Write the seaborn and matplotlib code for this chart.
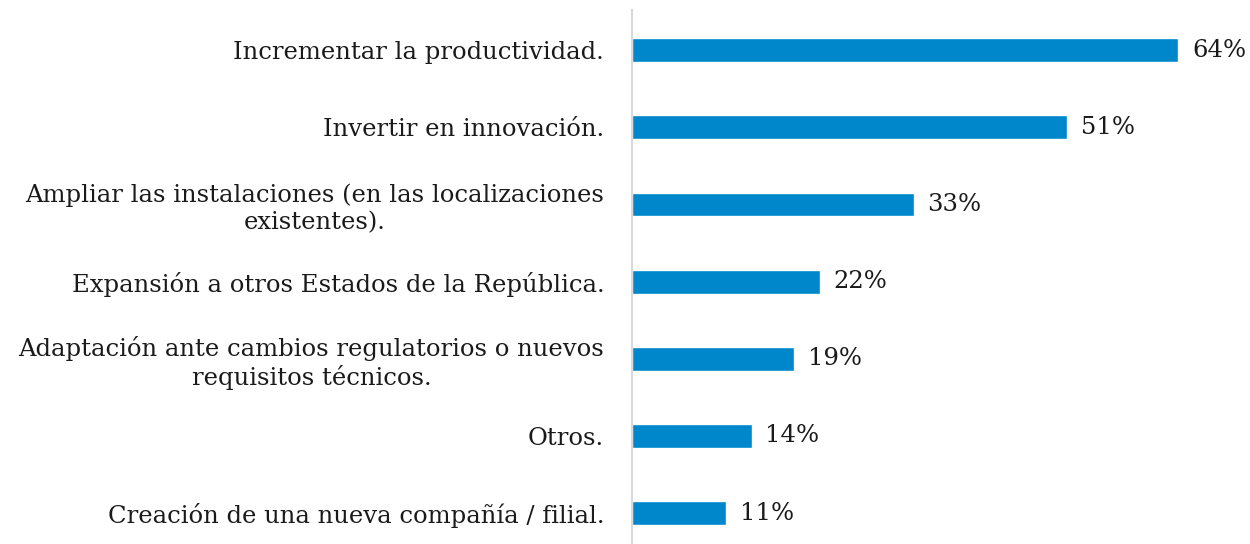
import pandas as pd
import matplotlib.pyplot as plt
import seaborn as sns

categories = [
    "Incrementar la productividad.",
    "Invertir en innovación.",
    "Ampliar las instalaciones (en las localizaciones\nexistentes).",
    "Expansión a otros Estados de la República.",
    "Adaptación ante cambios regulatorios o nuevos\nrequisitos técnicos.",
    "Otros.",
    "Creación de una nueva compañía / filial.",
]
values = [64, 51, 33, 22, 19, 14, 11]

BAR_COLOR = "#0086CB"


def plot():
    df = pd.DataFrame({"cat": categories, "val": values})
    sns.set_style("white")
    plt.rcParams["font.family"] = ["DejaVu Serif"]

    fig = plt.figure(figsize=(12.5, 5.44), dpi=100)
    ax = fig.add_axes([0.5056, 0.0, 0.4944, 0.9816])
    sns.barplot(data=df, x="val", y="cat", orient="h", color=BAR_COLOR,
                width=0.31, saturation=1, ax=ax)

    ax.set_xlim(0, 72.4)
    ax.set_ylim(6.4, -0.52)
    ax.set_xlabel("")
    ax.set_ylabel("")
    ax.set_xticks([])
    for s in ["top", "right", "bottom"]:
        ax.spines[s].set_visible(False)
    ax.spines["left"].set_color("#d9d9d9")
    ax.spines["left"].set_linewidth(1.5)

    ax.tick_params(axis="y", length=0, pad=20, labelsize=17.5, labelcolor="#1a1a1a")
    for lab in ax.get_yticklabels():
        lab.set_multialignment("center")

    for i, v in enumerate(values):
        ax.text(v + 1.6, i, f"{v}%", va="center", ha="left",
                fontsize=17.5, color="#1a1a1a")

    fig.savefig("out.png", dpi=100)


if __name__ == "__main__":
    plot()
